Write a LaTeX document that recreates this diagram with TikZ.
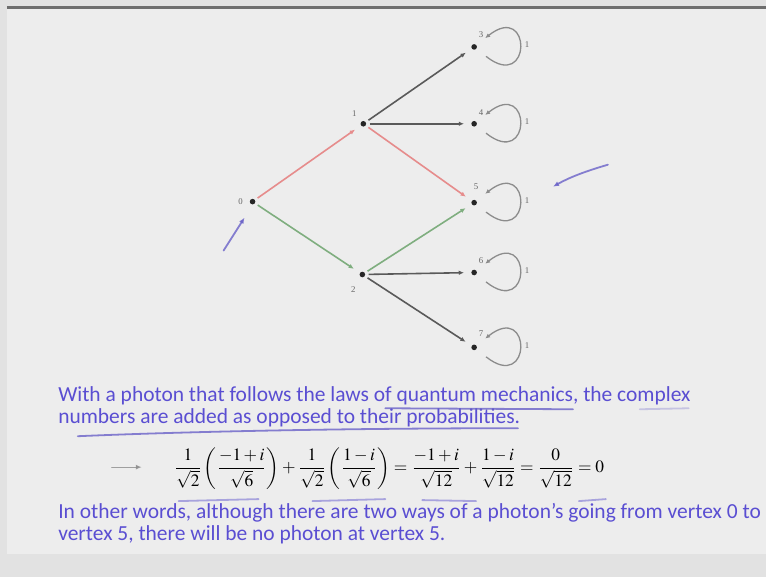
\documentclass[tikz,border=0pt]{standalone}
\usepackage{mathptmx}
\usepackage{fontspec}
\setmainfont{Carlito}
\newfontfamily\lblfont{Liberation Serif}
\usetikzlibrary{positioning,arrows.meta,calc}
\definecolor{uSlide}{HTML}{EDEDED}
\definecolor{uFrame}{HTML}{E2E2E2}
\definecolor{uTop}{HTML}{6E6E6E}
\definecolor{uText}{HTML}{5A4ED2}
\definecolor{uPen}{HTML}{6A62C8}
\definecolor{uRed}{HTML}{E68C8C}
\definecolor{uGreen}{HTML}{7FAE7F}
\definecolor{uEdge}{HTML}{5A5A5A}
\tikzset{
  vtx/.style={circle, fill=black!85, inner sep=0pt, minimum size=2.8pt},
  vlbl/.style={font=\lblfont\fontsize{4.4}{5}\selectfont, text=black!60, inner sep=0pt},
  edge/.style={-{Latex[length=2.6pt,width=2.3pt]}, line width=0.8pt, draw=uEdge,
               shorten >=3.5pt, shorten <=1.5pt},
  redge/.style={edge, draw=uRed},
  gedge/.style={edge, draw=uGreen},
  selfloop/.style={-{Latex[length=2.4pt,width=2.2pt]}, line width=0.65pt, draw=black!45,
                   shorten >=5.5pt, shorten <=6pt},
  body/.style={font=\fontsize{10.75}{12.5}\selectfont, text=uText, anchor=west,
               inner sep=0pt},
  pen/.style={draw=uPen, line width=0.9pt, line cap=round, opacity=0.8},
  penarrow/.style={pen, -{Latex[length=3pt,width=2.6pt]}},
}

\begin{document}
\begin{tikzpicture}[x=0.5pt, y=-0.5pt]

%% ── slide background and frame ───────────────────────────────────────────
\fill[uFrame] (0,0) rectangle (767,578);
\fill[uSlide] (7,8) rectangle (767,555);
\draw[uTop, line width=1.4pt] (7,7.5) -- (767,7.5);
\useasboundingbox (0,0) rectangle (767,578);

%% ── vertices, left to right ──────────────────────────────────────────────
\node[vtx] (v0) at (253,202) {};
\node[vtx] (v1) at (364,124) {};
\node[vtx] (v2) at (363,275) {};
\node[vtx] (v3) at (475,47)  {};
\node[vtx] (v4) at (475,124) {};
\node[vtx] (v5) at (475,203) {};
\node[vtx] (v6) at (475,273) {};
\node[vtx] (v7) at (475,348) {};

\node[vlbl] at (241,202) {0};
\node[vlbl] at (355,114) {1};
\node[vlbl] at (354,290) {2};
\node[vlbl] at (482,35)  {3};
\node[vlbl] at (482,113) {4};
\node[vlbl] at (477,187) {5};
\node[vlbl] at (482,261) {6};
\node[vlbl] at (482,334) {7};

%% ── the two paths to vertex 5 ────────────────────────────────────────────
\draw[redge] (v0) -- (v1);
\draw[redge] (v1) -- (v5);
\draw[gedge] (v0) -- (v2);
\draw[gedge] (v2) -- (v5);

\draw[edge] (v1) -- (v3);
\draw[edge] (v1) -- (v4);
\draw[edge] (v2) -- (v6);
\draw[edge] (v2) -- (v7);

%% ── self loops, each with weight 1 ───────────────────────────────────────
\foreach \v in {v3,v4,v5,v6,v7}{
  \draw[selfloop] (\v) .. controls +(58,46) and +(58,-46) .. (\v);
  \node[vlbl] at ($(\v)+(53,-2)$) {1};
}

%% ── handwritten arrows on the graph ──────────────────────────────────────
\coordinate (p0) at (224,251);
\coordinate (p5) at (609,165);
\draw[penarrow] (p0) -- ($(v0)+(-8,16)$);
\draw[penarrow] (p5) .. controls (585,172) and (570,178) .. ($(v5)+(79,-16)$);

%% ── text ─────────────────────────────────────────────────────────────────
\node[body] (t1) at (58,396)
  {With a photon that follows the laws of quantum mechanics, the complex};
\node[body] (t2) at (58,419)
  {numbers are added as opposed to their probabilities.};

\node[anchor=west, inner sep=0pt, font=\fontsize{8.7}{10}\selectfont] (eq) at (174,469)
  {$\displaystyle \frac{1}{\sqrt{2}}\left(\frac{-1+i}{\sqrt{6}}\right)
   +\frac{1}{\sqrt{2}}\left(\frac{1-i}{\sqrt{6}}\right)
   =\frac{-1+i}{\sqrt{12}}+\frac{1-i}{\sqrt{12}}=\frac{0}{\sqrt{12}}=0$};

\node[body] (t3) at (58,514)
  {In other words, although there are two ways of a photon's going from vertex 0 to};
\node[body] (t4) at (58,536)
  {vertex 5, there will be no photon at vertex 5.};

%% ── handwritten underlines ───────────────────────────────────────────────
\draw[pen] (386,409) -- (574,410);
\draw[pen, opacity=0.3] (641,410) -- (690,409);
\draw[pen] (78,437) .. controls (170,433) and (330,429) .. (519,429);
\coordinate (q0) at (112,468);
\draw[penarrow, draw=black!45, line width=0.6pt] (q0) -- (142,468);
\draw[pen, draw=uPen!70] (179,502) -- (259,500);
\draw[pen, draw=uPen!70] (313,502) -- (386,500);
\draw[pen, draw=uPen!70] (423,501) -- (477,502);
\draw[pen, draw=uPen!70] (580,502) -- (607,500);

\end{tikzpicture}
\end{document}
